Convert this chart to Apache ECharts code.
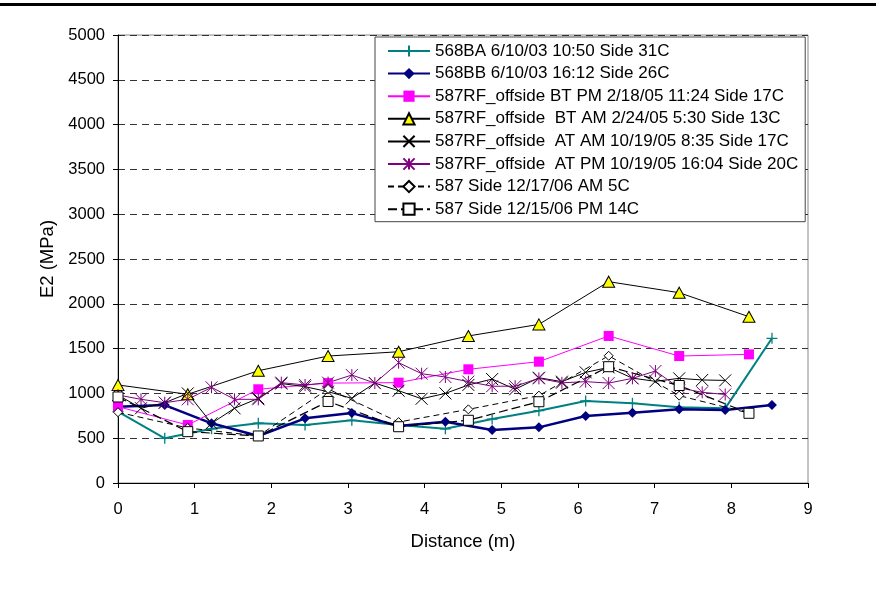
<!DOCTYPE html>
<html><head><meta charset="utf-8">
<script src="https://cdn.jsdelivr.net/npm/echarts@6/dist/echarts.min.js"></script>
<style>html,body{margin:0;padding:0;background:#fff}#c{width:876px;height:589px}</style>
</head><body><div id="c"></div>
<script>
// distances (m)
const x2ft = [0, 0.61, 1.22, 1.83, 2.44, 3.05, 3.66, 4.27, 4.88, 5.49, 6.10, 6.71, 7.32, 7.92, 8.53];
const x3ft = [0, 0.91, 1.83, 2.74, 3.66, 4.57, 5.49, 6.40, 7.32, 8.23];
const x1ft = [0, 0.30, 0.61, 0.91, 1.22, 1.52, 1.83, 2.13, 2.44, 2.74, 3.05, 3.35, 3.66, 3.96, 4.27, 4.57, 4.88, 5.18, 5.49, 5.79, 6.10, 6.40, 6.71, 7.01, 7.32, 7.62, 7.92];

const names = [
  "568BA 6/10/03 10:50 Side 31C",
  "568BB 6/10/03 16:12 Side 26C",
  "587RF_offside BT PM 2/18/05 11:24 Side 17C",
  "587RF_offside  BT AM 2/24/05 5:30 Side 13C",
  "587RF_offside  AT AM 10/19/05 8:35 Side 17C",
  "587RF_offside  AT PM 10/19/05 16:04 Side 20C",
  "587 Side 12/17/06 AM 5C",
  "587 Side 12/15/06 PM 14C"
];

const s568BA = [796, 499, 605, 668, 647, 700, 647, 605, 714, 807, 915, 889, 845, 833, 1615];
const s568BB = [852, 870, 666, 525, 722, 780, 636, 684, 591, 621, 748, 785, 822, 815, 870];
const sBTPM = [852, 647, 1046, 1115, 1120, 1269, 1354, 1641, 1417, 1436];
const sBTAM = [1094, 990, 1253, 1417, 1465, 1641, 1770, 2247, 2124, 1856];
const sATAM = [982, 834, 896, 1000, 666, 834, 945, 1110, 1075, 1019, 945, 1115, 1030, 940, 1000, 1094, 1160, 1046, 1175, 1131, 1235, 1290, 1170, 1135, 1168, 1150, 1145];
const sATPM = [982, 934, 896, 934, 1068, 934, 934, 1120, 1094, 1120, 1205, 1115, 1343, 1220, 1183, 1131, 1080, 1080, 1168, 1118, 1131, 1115, 1168, 1250, 1062, 1012, 988];
const sAM06 = [790, 614, 525, 1050, 680, 822, 975, 1420, 975, 780];
const sPM06 = [960, 573, 525, 910, 628, 700, 907, 1298, 1088, 778];

const yTicks = [0, 500, 1000, 1500, 2000, 2500, 3000, 3500, 4000, 4500, 5000];
const xTicks = [0, 1, 2, 3, 4, 5, 6, 7, 8, 9];

function pairs(xs, ys) { return xs.map((x, i) => [x, ys[i]]); }

const PLUS = 'path://M5,0L5,10M0,5L10,5';
const CROSS = 'path://M0,0L10,10M10,0L0,10';
const STAR = 'path://M0,0L10,10M10,0L0,10M5,0L5,10';

const F = '"Liberation Sans", Arial, sans-serif';

const chart = echarts.init(document.getElementById('c'), null, {renderer: 'canvas'});
const option = {
  animation: false,
  backgroundColor: '#fff',
  textStyle: {fontFamily: F},
  graphic: [{type: 'rect', shape: {x: 0, y: 3, width: 876, height: 3}, style: {fill: '#000'}}],
  grid: {left: 118, top: 35, right: 68, bottom: 106, show: true, borderColor: '#888', borderWidth: 1, containLabel: false},
  xAxis: {
    type: 'value', min: xTicks[0], max: xTicks[xTicks.length - 1], interval: 1,
    name: 'Distance (m)', nameLocation: 'middle', nameGap: 49,
    nameTextStyle: {fontSize: 18.5, color: '#000', fontFamily: F},
    axisLine: {lineStyle: {color: '#000', width: 1}},
    axisTick: {show: true, inside: false, length: 5, lineStyle: {color: '#000'}},
    axisLabel: {fontSize: 16.5, color: '#000', margin: 18, fontFamily: F, formatter: v => String(v)},
    splitLine: {show: false}
  },
  yAxis: {
    type: 'value', min: yTicks[0], max: yTicks[yTicks.length - 1], interval: 500,
    name: 'E2 (MPa)', nameLocation: 'middle', nameGap: 53, nameRotate: 90,
    nameTextStyle: {fontSize: 18.5, color: '#000', fontFamily: F},
    axisLine: {show: true, lineStyle: {color: '#000', width: 1}},
    axisTick: {show: true, inside: false, length: 5, lineStyle: {color: '#000'}},
    axisLabel: {fontSize: 16.5, color: '#000', margin: 13, fontFamily: F, formatter: v => String(v)},
    splitLine: {show: true, lineStyle: {color: '#333', type: [7, 5], width: 1}}
  },
  legend: {
    orient: 'vertical', left: 375, top: 37,
    backgroundColor: '#fff', borderColor: '#444', borderWidth: 1,
    padding: [5.5, 7, 4, 12], itemGap: 5.6, itemWidth: 42, itemHeight: 14,
    textStyle: {fontSize: 17, color: '#000', fontFamily: F},
    data: names
  },
  series: [
    {name: names[0], type: 'line', data: pairs(x2ft, s568BA), symbol: PLUS, symbolSize: 11,
     lineStyle: {color: '#008080', width: 2}, itemStyle: {color: '#008080', borderColor: '#008080', borderWidth: 1.3}},
    {name: names[1], type: 'line', data: pairs(x2ft, s568BB), symbol: 'diamond', symbolSize: 10,
     lineStyle: {color: '#000080', width: 2.5}, itemStyle: {color: '#000080'}},
    {name: names[2], type: 'line', data: pairs(x3ft, sBTPM), symbol: 'rect', symbolSize: 10,
     lineStyle: {color: '#FF00FF', width: 1}, itemStyle: {color: '#FF00FF'}},
    {name: names[3], type: 'line', data: pairs(x3ft, sBTAM), symbol: 'triangle', symbolSize: [12, 11],
     lineStyle: {color: '#000', width: 1}, itemStyle: {color: '#FFFF00', borderColor: '#000', borderWidth: 1}},
    {name: names[4], type: 'line', data: pairs(x1ft, sATAM), symbol: CROSS, symbolSize: 12,
     lineStyle: {color: '#000', width: 1}, itemStyle: {color: '#000', borderColor: '#000', borderWidth: 1}},
    {name: names[5], type: 'line', data: pairs(x1ft, sATPM), symbol: STAR, symbolSize: 12,
     lineStyle: {color: '#800080', width: 1}, itemStyle: {color: '#800080', borderColor: '#800080', borderWidth: 1}},
    {name: names[6], type: 'line', data: pairs(x3ft, sAM06), symbol: 'diamond', symbolSize: 9,
     lineStyle: {color: '#000', width: 1, type: [6, 4]}, itemStyle: {color: '#fff', borderColor: '#000', borderWidth: 1}},
    {name: names[7], type: 'line', data: pairs(x3ft, sPM06), symbol: 'rect', symbolSize: 10,
     lineStyle: {color: '#000', width: 1.2, type: [9, 4]}, itemStyle: {color: '#fff', borderColor: '#000', borderWidth: 1}}
  ]
};
chart.setOption(option);
</script>
</body></html>
